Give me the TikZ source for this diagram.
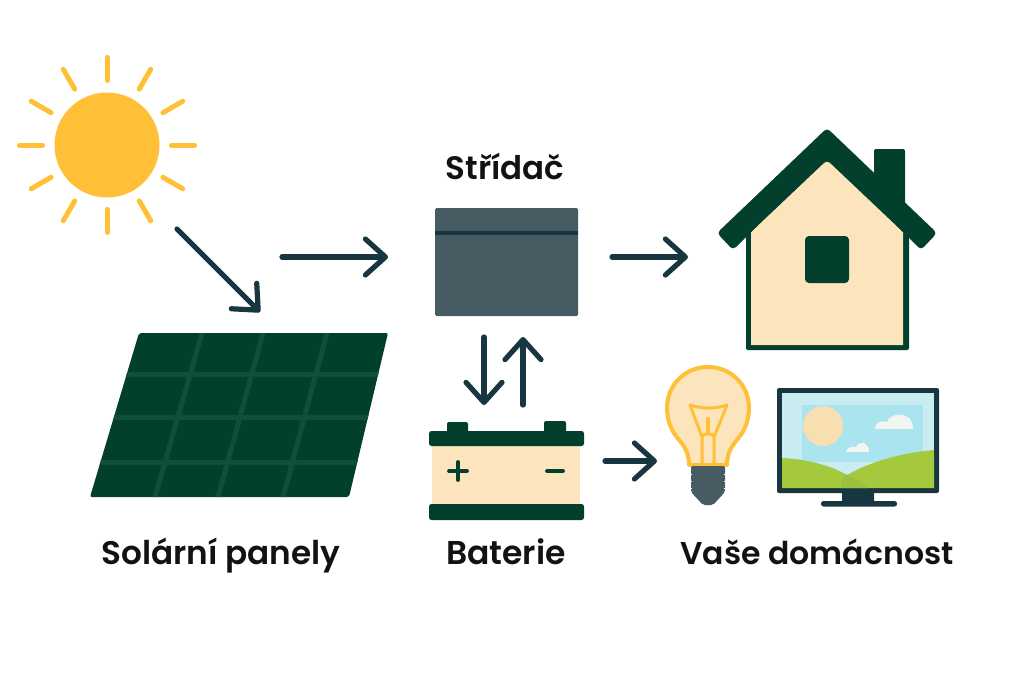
\documentclass[tikz,border=0pt]{standalone}
\usepackage{fontspec}
\setmainfont{Poppins}[BoldFont={Poppins SemiBold}]
\usetikzlibrary{arrows.meta}
\definecolor{sunyellow}{HTML}{FFC038}
\definecolor{flowteal}{HTML}{17363F}
\definecolor{pinegreen}{HTML}{033F2D}
\definecolor{gridgreen}{HTML}{0F4F3C}
\definecolor{creamfill}{HTML}{FCE5BC}
\definecolor{slategrey}{HTML}{475B62}
\definecolor{skypale}{HTML}{C8ECF2}
\definecolor{skydeep}{HTML}{AAE4EF}
\definecolor{hillgreen}{HTML}{A5C93D}
\definecolor{hilldark}{HTML}{9BBF3E}
\definecolor{cloudwhite}{HTML}{F3F5F0}
\definecolor{screensun}{HTML}{F8DFB2}

\begin{document}
\begin{tikzpicture}[x=1pt, y=-1pt]
      \tikzstyle{flow}=[draw=flowteal, line width=5.2pt, line cap=round, -{Straight Barb[round, length=20pt, width=36pt]}]
      \tikzstyle{caption}=[font=\fontsize{31.5}{36}\selectfont\bfseries, text=black!93, inner sep=0pt, anchor=base]
      \tikzstyle{ray}=[draw=sunyellow, line width=5pt, line cap=round]

      \useasboundingbox (0, 0) rectangle (1024, 683);

      \node (sun) [circle, fill=sunyellow, minimum size=105pt, inner sep=0pt] at (107, 145) {};
      \foreach \a in {0, 30, ..., 330}
      {
        \draw [ray] (107, 145) ++(\a:64.5) -- ++(\a:23);
      }

      \node (panel) at (239, 415) {};
      \begin{scope}
        \clip [rounded corners=2pt] (139, 333) -- (388, 333) -- (349, 497) -- (90, 497) -- cycle;
        \fill [pinegreen] (80, 325) rectangle (395, 505);
        \foreach \y in {374, 417, 462}
        {
          \draw [gridgreen, line width=5pt] (80, \y) -- (395, \y);
        }
        \draw [gridgreen, line width=5pt]
          (202, 333) -- (155, 497)
          (263, 333) -- (218, 497)
          (327, 333) -- (283, 497);
      \end{scope}

      \node (inverter) [rectangle, rounded corners=1.5pt, fill=slategrey, minimum width=143pt, minimum height=108pt, inner sep=0pt] at (506.5, 262) {};
      \draw [flowteal, line width=4pt] (435, 233) -- (578, 233);

      \fill [pinegreen, rounded corners=2pt] (447, 422) rectangle (468, 436);
      \fill [pinegreen, rounded corners=2pt] (544, 421) rectangle (566, 436);
      \fill [creamfill] (432, 444) rectangle (580, 506);
      \fill [pinegreen, rounded corners=2.5pt] (429, 431) rectangle (584, 446);
      \fill [pinegreen, rounded corners=2.5pt] (429, 504) rectangle (584, 520);
      \draw [pinegreen, line width=3.8pt, line cap=round]
        (449, 471) -- (467, 471)
        (458, 462) -- (458, 480)
        (547, 471) -- (563, 471);
      \node (battery) at (506, 475) {};

      \fill [pinegreen, rounded corners=2pt] (746, 225) rectangle (909, 350);
      \fill [creamfill] (751, 232) -- (827, 160) -- (903, 232) -- (903, 345) -- (751, 345) -- cycle;
      \fill [pinegreen, rounded corners=2pt] (874, 149) -- (905, 149) -- (905, 215) -- (874, 190) -- cycle;
      \fill [pinegreen, rounded corners=4pt]
        (827, 128) -- (937, 233) -- (921, 250) -- (903, 232) -- (827, 160) -- (751, 232) -- (733, 250) -- (717, 233) -- cycle;
      \node (window) [rectangle, rounded corners=4pt, fill=pinegreen, minimum width=44pt, minimum height=47pt, inner sep=0pt] at (827, 259.5) {};
      \node (home) at (827, 250) {};

      \draw [sunyellow, line width=4pt, fill=creamfill, line join=round]
        (689, 465) .. controls (689, 450) and (682, 444) .. (676, 436)
        .. controls (670, 428) and (667, 418) .. (667, 408)
        .. controls (667, 385) and (685, 367) .. (708, 367)
        .. controls (731, 367) and (749, 385) .. (749, 408)
        .. controls (749, 418) and (746, 428) .. (740, 436)
        .. controls (734, 444) and (727, 450) .. (727, 465) -- cycle;
      \draw [sunyellow, line width=3pt, line join=round]
        (702, 465) -- (702, 437) .. controls (702, 435) and (704, 434) .. (708, 434)
        .. controls (712, 434) and (714, 435) .. (714, 437) -- (714, 465)
        (702, 437) -- (690, 405) .. controls (702, 409) and (715, 409) .. (727, 405) -- (714, 437);
      \draw [sunyellow, line width=4.5pt, line cap=round] (708, 419) -- (708, 432);
      \fill [slategrey, rounded corners=2pt]
        (691, 466) -- (725, 466) -- (725, 492) -- (713, 505) -- (703, 505) -- (691, 492) -- cycle;
      \foreach \y in {474, 481, 488}
      {
        \draw [white, line width=1pt] (690.5, \y) -- (692, \y) (724, \y) -- (725.5, \y);
      }

      \fill [flowteal, rounded corners=2pt] (842, 490) rectangle (874, 503);
      \fill [flowteal, rounded corners=2.5pt] (821, 501) rectangle (897, 506.5);
      \fill [flowteal, rounded corners=2pt] (777, 388) rectangle (939, 493);
      \fill [skypale] (782, 393) rectangle (934, 488);
      \fill [skydeep] (802, 405) rectangle (923, 462);
      \fill [screensun] (823, 426) circle [radius=20];
      \fill [cloudwhite] (875, 429) .. controls (875, 423) and (881, 420) .. (887, 422) .. controls (890, 412) and (913, 410) .. (913, 429) -- cycle;
      \fill [cloudwhite] (846, 452) .. controls (846, 448) and (851, 446) .. (856, 447) .. controls (859, 440) and (869, 442) .. (869, 452) -- cycle;
      \fill [hillgreen] (782, 458) .. controls (805, 459) and (830, 465) .. (847, 475) .. controls (870, 462) and (900, 453) .. (934, 450) -- (934, 488) -- (782, 488) -- cycle;
      \fill [hilldark] (847, 475) .. controls (841, 479) and (840, 484) .. (841, 488) -- (868, 488) .. controls (862, 483) and (855, 479) .. (847, 475) -- cycle;
      \node (screen) at (858, 440) {};

      \node (inverterlabel) [caption, font=\fontsize{32.5}{36}\selectfont\bfseries] at (505, 179) {Střídač};
      \node (panellabel) [caption, font=\fontsize{32.7}{36}\selectfont\bfseries] at (221, 564) {Solární panely};
      \node (batterylabel) [caption, font=\fontsize{33}{36}\selectfont\bfseries] at (506, 564) {Baterie};
      \node (homelabel) [caption] at (817, 564) {Vaše domácnost};

      \coordinate (sunout) at (177, 229);
      \coordinate (panelin) at (260, 312);
      \coordinate (panelout) at (282, 257);
      \coordinate (inverterin) at (388, 257);
      \coordinate (inverterout) at (612, 257);
      \coordinate (homein) at (688, 257);
      \coordinate (inverterdown) at (484, 337);
      \coordinate (batteryin) at (484, 405);
      \coordinate (batteryup) at (523, 405);
      \coordinate (inverterback) at (523, 337);
      \coordinate (batteryout) at (605, 461);
      \coordinate (bulbin) at (657, 461);

      \draw [flow] (sunout) -- (panelin);
      \draw [flow] (panelout) -- (inverterin);
      \draw [flow] (inverterout) -- (homein);
      \draw [flow] (inverterdown) -- (batteryin);
      \draw [flow] (batteryup) -- (inverterback);
      \draw [flow] (batteryout) -- (bulbin);
    \end{tikzpicture}
\end{document}
